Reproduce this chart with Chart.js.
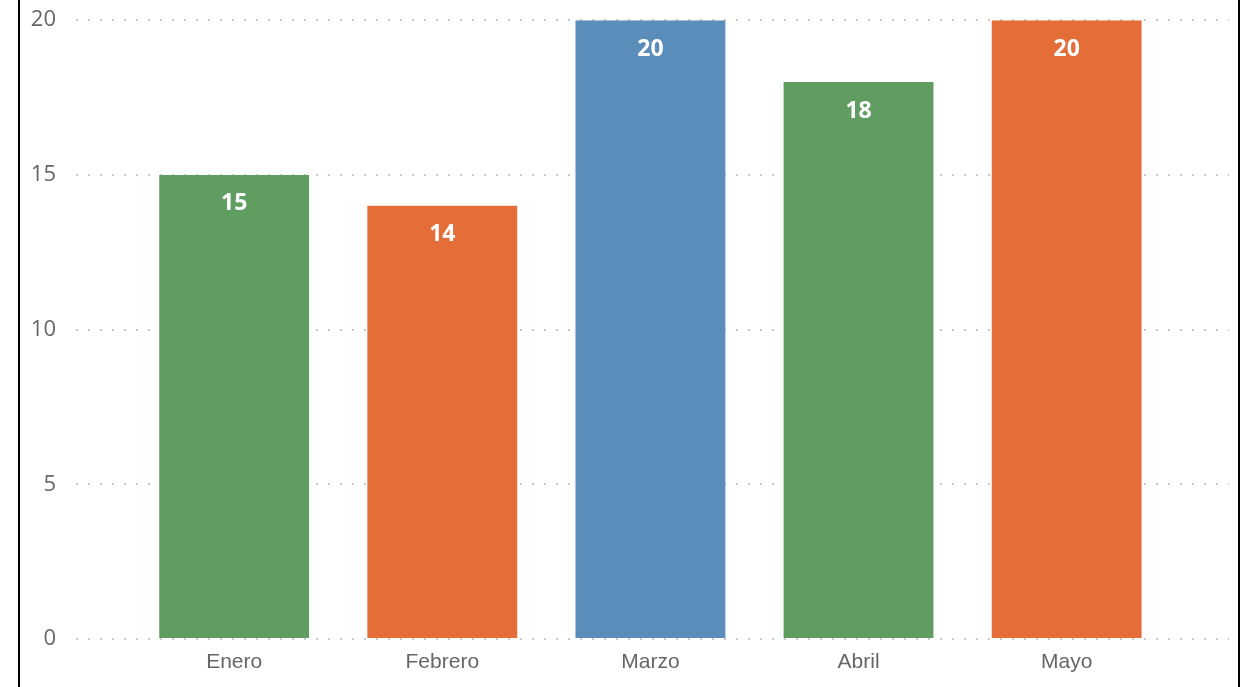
<!DOCTYPE html>
<html>
<head>
<meta charset="utf-8">
<script src="https://cdn.jsdelivr.net/npm/chart.js@4"></script>
<style>
	html, body { margin: 0; padding: 0; background: #fff; overflow: hidden; }
	#wrap {
		position: absolute; left: 18px; top: 0;
		width: 1218px; height: 687px; overflow: hidden;
		border-left: 2px solid #000; border-right: 2px solid #000;
	}
	#box { position: absolute; left: 0; top: -13px; width: 1218px; height: 701px; }
</style>
</head>
<body>
<div id="wrap"><div id="box"><canvas id="barChart"></canvas></div></div>
<script>
// datos
var meses = ['Enero', 'Febrero', 'Marzo', 'Abril', 'Mayo'];
var valores = [15, 14, 20, 18, 20];
var yTicks = [0, 5, 10, 15, 20];

var puntos = [];
for (var i = 0; i < meses.length; i++) {
	puntos.push({ x: i, y: valores[i] });
}

// etiquetas blancas dentro de la barra
var etiquetas = {
	id: 'etiquetas',
	afterDatasetsDraw: function(chart) {
		var ctx = chart.ctx;
		var meta = chart.getDatasetMeta(0);
		ctx.save();
		ctx.fillStyle = '#fff';
		ctx.font = 'bold 23px "Open Sans"';
		ctx.textAlign = 'center';
		ctx.textBaseline = 'middle';
		meta.data.forEach(function(bar, idx) {
			ctx.fillText(valores[idx], bar.x, bar.y + 29);
		});
		ctx.restore();
	}
};

var ctx = document.getElementById('barChart').getContext('2d');
var chart = new Chart(ctx, {
	type: 'bar',
	data: {
		datasets: [{
			data: puntos,
			backgroundColor: ['#5f9e60', '#e56d38', '#5b8dbb', '#5f9e60', '#e56d38'],
			barPercentage: 0.72,
			categoryPercentage: 1
		}]
	},
	options: {
		responsive: true,
		maintainAspectRatio: false,
		animation: false,
		layout: { padding: { top: 7, right: 9, left: 0, bottom: 0 } },
		plugins: { legend: { display: false }, tooltip: { enabled: false } },
		scales: {
			x: {
				type: 'linear',
				offset: false,
				min: -0.76,
				max: 4.78,
				grid: { display: false },
				border: { display: false },
				afterBuildTicks: function(scale) {
					scale.ticks = meses.map(function(m, idx) { return { value: idx }; });
				},
				afterFit: function(scale) { scale.height = 49; },
				ticks: {
					autoSkip: false,
					maxRotation: 0,
					padding: 3,
					color: '#666',
					font: { family: '"Liberation Sans", Arial', size: 21 },
					callback: function(v) { return meses[v]; }
				}
			},
			y: {
				min: 0,
				max: 20,
				afterBuildTicks: function(scale) {
					scale.ticks = yTicks.map(function(v) { return { value: v }; });
				},
				afterFit: function(scale) { scale.width = 56; },
				border: { display: false, dash: [2, 10] },
				grid: {
					color: '#c8c8c8',
					lineWidth: 2,
					drawTicks: false
				},
				ticks: {
					padding: 20,
					color: '#666',
					font: { family: '"Open Sans"', size: 22 }
				}
			}
		}
	},
	plugins: [etiquetas]
});
</script>
</body>
</html>
